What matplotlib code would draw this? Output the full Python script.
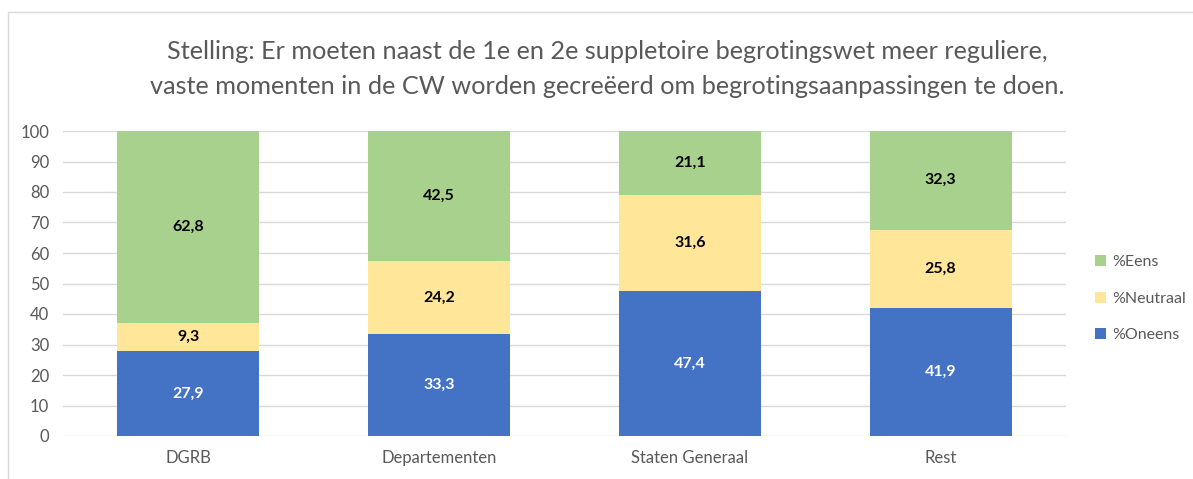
import matplotlib.pyplot as plt
from matplotlib.patches import Rectangle

plt.rcParams['font.family'] = ['Lato', 'DejaVu Sans']

categories = ['DGRB', 'Departementen', 'Staten Generaal', 'Rest']
oneens = [27.9, 33.3, 47.4, 41.9]
neutraal = [9.3, 24.2, 31.6, 25.8]
eens = [62.8, 42.5, 21.1, 32.3]
yticks = list(range(0, 101, 10))

c_blue = '#4472C4'
c_yellow = '#FFE699'
c_green = '#A9D18E'
gray = '#595959'

fig = plt.figure(figsize=(11.93, 4.79), dpi=100)
fig.patches.append(Rectangle((8 / 1193, -0.1), 2, 0.975 + 0.1, transform=fig.transFigure,
                             fill=False, edgecolor='#D9D9D9', linewidth=1, zorder=0))
ax = fig.add_axes([63 / 1193, 1 - 436 / 479, (1066 - 63) / 1193, (436 - 131) / 479])

x = range(len(categories))
w = 0.566
b1 = ax.bar(x, oneens, w, color=c_blue, label='%Oneens', zorder=3)
bottom2 = oneens
b2 = ax.bar(x, neutraal, w, bottom=bottom2, color=c_yellow, label='%Neutraal', zorder=3)
bottom3 = [a + b for a, b in zip(oneens, neutraal)]
b3 = ax.bar(x, eens, w, bottom=bottom3, color=c_green, label='%Eens', zorder=3)

def fmt(v):
    return f'{v:.1f}'.replace('.', ',')

for bars, vals, col in [(b1, oneens, 'white'), (b2, neutraal, 'black'), (b3, eens, 'black')]:
    for rect, v in zip(bars, vals):
        ax.text(rect.get_x() + rect.get_width() / 2, rect.get_y() + rect.get_height() / 2,
                fmt(v), ha='center', va='center', color=col, fontsize=11.5, fontweight='bold', zorder=4)

ax.set_xlim(-0.5, len(categories) - 0.5)
ax.set_ylim(0, 100)
ax.set_yticks(yticks)
ax.set_xticks(list(x))
ax.set_xticklabels(categories)
ax.yaxis.grid(True, color='#D9D9D9', linewidth=1, zorder=0)
for s in ax.spines.values():
    s.set_visible(False)
ax.tick_params(axis='both', length=0, colors=gray, labelsize=12)
ax.tick_params(axis='x', pad=10)
ax.tick_params(axis='y', pad=10)

fig.text(607 / 1193, 1 - 69 / 479,
         'Stelling: Er moeten naast de 1e en 2e suppletoire begrotingswet meer reguliere,\n'
         'vaste momenten in de CW worden gecreëerd om begrotingsaanpassingen te doen.',
         ha='center', va='center', fontsize=18.2, color=gray, linespacing=1.6)

ax.legend(handles=[b3, b2, b1], loc='center left', bbox_to_anchor=(1.029, 0.45), frameon=False,
          fontsize=11.5, labelcolor=gray, handlelength=0.7, handleheight=0.7, handletextpad=0.35,
          labelspacing=1.4, borderpad=0, borderaxespad=0)

fig.savefig('out.png', dpi=100)
